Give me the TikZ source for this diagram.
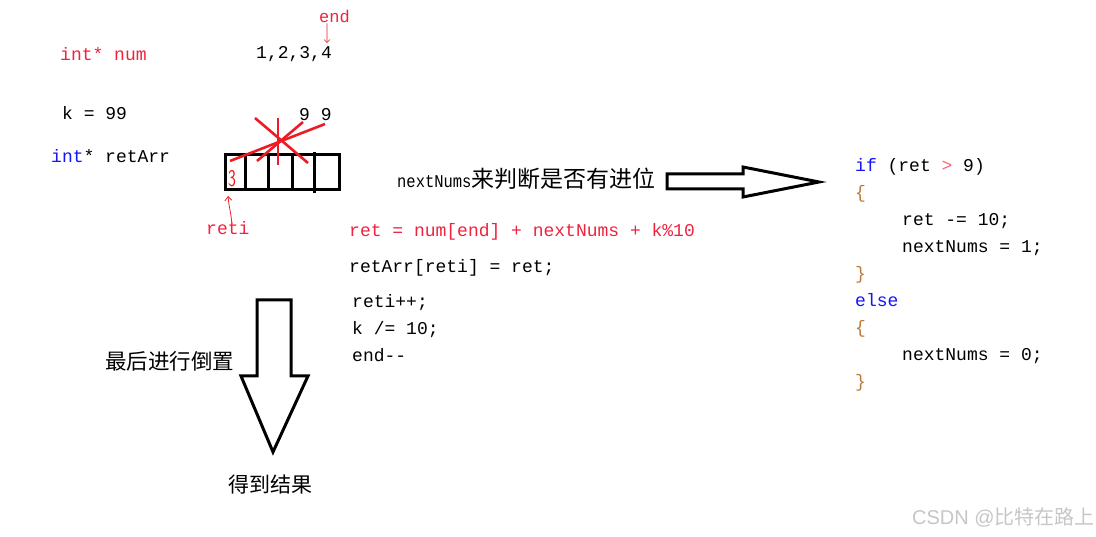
\documentclass[tikz,border=0pt]{standalone}
\usepackage{fontspec}
\setmonofont{Liberation Mono}
\newfontfamily\cjk{Noto Sans CJK SC}
\newfontfamily\wmfont{Liberation Sans}
\usetikzlibrary{positioning,arrows.meta}
\definecolor{codered}{RGB}{240,34,62}
\definecolor{penred}{RGB}{237,28,36}
\definecolor{kwblue}{RGB}{20,20,250}
\definecolor{bracecol}{RGB}{190,120,55}
\newcommand{\kw}[1]{\textcolor{kwblue}{#1}}
\newcommand{\cn}[1]{{\cjk #1}}

\begin{document}
\begin{tikzpicture}[x=1pt,y=-1pt,
    every node/.style={font=\fontsize{18}{20}\selectfont\ttfamily,inner sep=0pt,anchor=base west},
    blockarrow/.style={line width=3pt,line join=miter,fill=white},
    scribble/.style={penred,line width=2.6pt},
    pointer/.style={penred,line width=0.8pt,-{Straight Barb[length=4pt,width=7pt]}}]
  \useasboundingbox (0,0) rectangle (1096,537);
  % variables on the left
  \node[text=codered] (num) at (60,61) {int* num};
  \node (kval) at (62,120) {k = 99};
  \node (retarr) at (51,163) {\kw{int}* retArr};
  % the number and its end
  \node (digits) at (256,59) {1,2,3,4};
  \node[text=codered,font=\fontsize{17}{18}\selectfont\ttfamily] (endlbl) at (319,23) {end};
  \coordinate (lastdigit) at (327,43);
  \draw[pointer,line width=0.6pt,-{Straight Barb[length=3pt,width=6pt]}] ([xshift=-7.5pt]endlbl.south) -- (lastdigit);
  \node (nines) at (299,121) {9 9};
  % result array
  \draw[line width=3pt] (225,155) rectangle (339,190);
  \foreach \xx in {245,268,292} \draw[line width=3pt] (\xx,155) -- (\xx,190);
  \draw[line width=3pt] (314,152) -- (314,193);
  \node[text=penred,font=\fontsize{24}{24}\selectfont\sffamily] (three) at (228,187) {\scalebox{0.7}[1]{3}};
  % crossed out digits
  \draw[scribble] (230,161) -- (325,124);
  \draw[scribble] (257,161) -- (303,122);
  \draw[scribble] (278,118) -- (278,165);
  \draw[scribble] (255,118) -- (308,163);
  % reti pointer
  \node[text=codered] (reti) at (206,235) {reti};
  \coordinate (firstcell) at (228,196);
  \draw[pointer] ([xshift=4pt,yshift=-1pt]reti.north) to[out=95,in=-85] (firstcell);
  % loop body
  \node (carry) at (397,188) {\scalebox{0.86}[1]{nextNums}\cn{\fontsize{23}{24}\selectfont 来判断是否有进位}};
  \node[text=codered] (sum) at (349,237) {ret = num[end] + nextNums + k\%10};
  \node (store) at (349,273) {retArr[reti] = ret;};
  \node (inc) at (352,308) {reti++;};
  \node (div) at (352,335) {k /= 10;};
  \node (dec) at (352,362) {end--};
  % arrow to the carry check
  \draw[blockarrow] (667,174) -- (743,174) -- (743,167) -- (819,182) -- (743,197) -- (743,189) -- (667,189) -- cycle;
  % carry check
  \node (ifline) at (855,172) {\kw{if} (ret \textcolor{codered!70}{>} 9)};
  \node[text=bracecol] (open1) at (855,199) {\{};
  \node (sub) at (902,226) {ret -= 10;};
  \node (set1) at (902,253) {nextNums = 1;};
  \node[text=bracecol] (close1) at (855,280) {\}};
  \node (elseline) at (855,307) {\kw{else}};
  \node[text=bracecol] (open2) at (855,334) {\{};
  \node (set0) at (902,361) {nextNums = 0;};
  \node[text=bracecol] (close2) at (855,388) {\}};
  % reverse at the end
  \draw[blockarrow] (257,300) -- (291,300) -- (291,376) -- (308,376) -- (273,452) -- (241,376) -- (257,376) -- cycle;
  \node (reverse) at (105,370) {\cn{\fontsize{21.5}{24}\selectfont 最后进行倒置}};
  \node (result) at (228,493) {\cn{\fontsize{21}{24}\selectfont 得到结果}};
  % watermark
  \node[text=gray!45] (mark1) at (912,524) {\wmfont\fontsize{20}{22}\selectfont CSDN @\cn{比特在路上}};
\end{tikzpicture}
\end{document}
